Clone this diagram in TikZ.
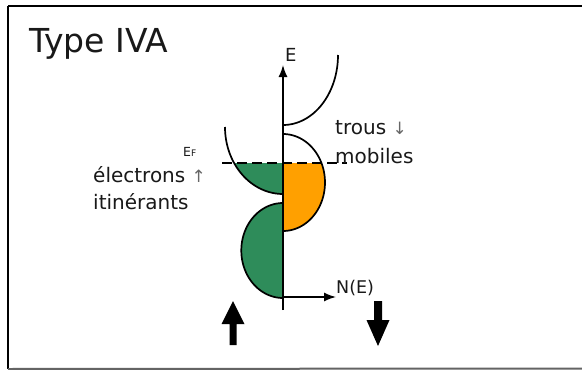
\documentclass[tikz,border=0pt]{standalone}
\usepackage{fontspec}
\setmainfont{DejaVu Sans}
\usetikzlibrary{arrows.meta}
\definecolor{dosgreen}{RGB}{46,140,90}
\definecolor{dosorange}{RGB}{255,160,0}
\definecolor{framegray}{RGB}{100,100,100}
\tikzset{
  curve/.style={line width=1.7pt, black},
  axisline/.style={line width=1.5pt, black, -{Latex[length=12pt,width=9pt]}},
  lbl/.style={inner sep=0pt, anchor=base west, text=black!90},
  bigarrow/.style={fill=black, draw=none}
}
\begin{document}
\begin{tikzpicture}[x=1pt,y=-1pt]
\useasboundingbox (0,0) rectangle (582,370);
\fill[white] (0,0) rectangle (582,370);
% frame
\coordinate (f1) at (8,6);
\coordinate (f2) at (582,6);
\coordinate (f3) at (8,369);
\coordinate (f4) at (582,368.5);
\draw[line width=1.5pt] (f1) -- (f2);
\draw[line width=2.5pt] (f1) -- (f3);
\draw[line width=2pt, framegray] (f3) -- (f4);
% fills
\fill[dosgreen] (283,163) -- plot[domain=147.5:90, samples=40, smooth] ({283+58*cos(\x)},{127+67*sin(\x)}) -- cycle;
\fill[dosorange] (283,163) -- plot[domain=-23.7:90, samples=40, smooth] ({283+42*cos(\x)},{182.5+48.5*sin(\x)}) -- cycle;
\fill[dosgreen] plot[domain=270:90, samples=60, smooth] ({283+41.7*cos(\x)},{250.5+47.5*sin(\x)}) -- cycle;
% curves
\draw[curve] plot[domain=180:90, samples=50, smooth] ({283+58*cos(\x)},{127+67*sin(\x)});
\draw[curve] plot[domain=90:0, samples=50, smooth] ({283+55*cos(\x)},{55+70*sin(\x)});
\draw[curve] plot[domain=-90:90, samples=60, smooth] ({283+42*cos(\x)},{182.5+48.5*sin(\x)});
\draw[curve] plot[domain=270:90, samples=60, smooth] ({283+41.7*cos(\x)},{250.5+47.5*sin(\x)});
% Fermi level
\coordinate (ef1) at (222,163);
\coordinate (ef2) at (347,163);
\draw[line width=1.6pt, dash pattern=on 10pt off 5pt] (ef1) -- (ef2);
% axes
\coordinate (o) at (283,310);
\coordinate (etip) at (283,65);
\coordinate (n0) at (283,297);
\coordinate (ntip) at (336,297);
\draw[axisline] (o) -- (etip);
\draw[axisline] (n0) -- (ntip);
% labels
\node[lbl] (title) at (29,52) {\fontsize{33}{38}\selectfont Type IVA};
\node[lbl] (elab) at (285,61) {\fontsize{18}{20}\selectfont E};
\node[lbl] (ef) at (183,156) {\fontsize{12.5}{14}\selectfont E\fontsize{9}{10}\selectfont F};
\node[lbl] (el1) at (93,182) {\fontsize{20}{24}\selectfont électrons {\fontsize{17}{20}\selectfont\textcolor{black!60}{↑}}};
\node[lbl] (el2) at (93,209) {\fontsize{20}{24}\selectfont itinérants};
\node[lbl] (tr1) at (335,134) {\fontsize{20}{24}\selectfont trous {\fontsize{17}{20}\selectfont\textcolor{black!60}{↓}}};
\node[lbl] (tr2) at (335,163) {\fontsize{20}{24}\selectfont mobiles};
\node[lbl] (ne) at (336,293) {\fontsize{17.5}{20}\selectfont N(E)};
% big spin arrows
\fill[bigarrow] (233,301) -- (244.5,324) -- (236.5,324) -- (236.5,345) -- (229.5,345) -- (229.5,324) -- (221.5,324) -- cycle;
\fill[bigarrow] (378,346) -- (389.5,320) -- (382,320) -- (382,301) -- (374,301) -- (374,320) -- (366.5,320) -- cycle;
\end{tikzpicture}
\end{document}
